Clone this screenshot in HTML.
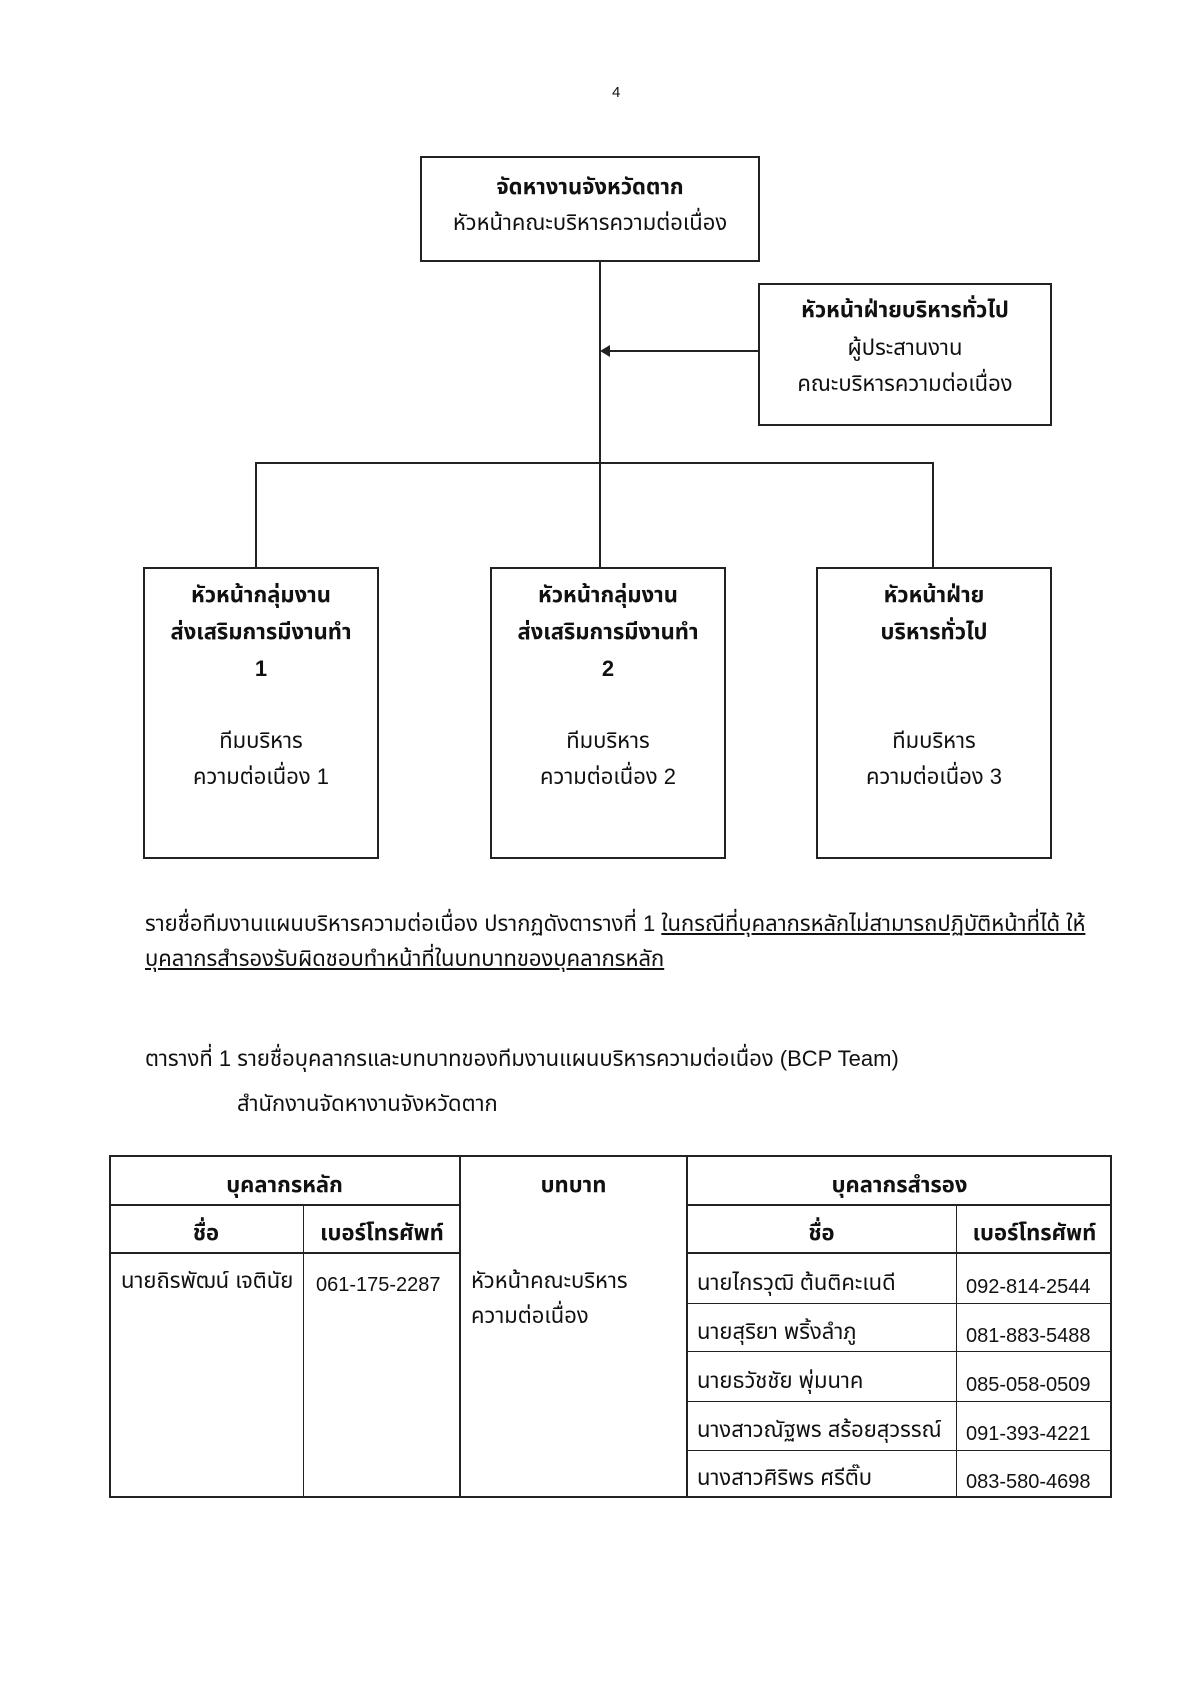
<!DOCTYPE html>
<html><head><meta charset="utf-8">
<style>
body{margin:0;width:1193px;height:1689px;background:#fff;position:relative;font-family:"Liberation Sans","Noto Sans Thai","Loma","Garuda",sans-serif;color:#111;overflow:hidden}
.a{position:absolute}
.box{position:absolute;border:2px solid #222;box-sizing:border-box}
.t{position:absolute;left:0;right:0;text-align:center;font-size:22px;line-height:26px}
.b{font-weight:bold}
.l{position:absolute;background:#222}
.tx{position:absolute;font-size:22px;white-space:nowrap;line-height:26px}
.ph{font-size:20px}
</style></head><body>
<div class="tx" style="left:612px;top:80px;font-size:15px">4</div>

<div class="box" style="left:420px;top:156px;width:340px;height:106px">
<div class="t b" style="top:16px">จัดหางานจังหวัดตาก</div>
<div class="t" style="top:52px">หัวหน้าคณะบริหารความต่อเนื่อง</div>
</div>
<div class="box" style="left:758px;top:283px;width:294px;height:143px">
<div class="t b" style="top:12px">หัวหน้าฝ่ายบริหารทั่วไป</div>
<div class="t" style="top:50px">ผู้ประสานงาน</div>
<div class="t" style="top:86px">คณะบริหารความต่อเนื่อง</div>
</div>
<div class="l" style="left:599px;top:262px;width:2px;height:202px"></div>
<div class="l" style="left:608px;top:350px;width:150px;height:2px"></div>
<div class="a" style="left:600px;top:345px;width:0;height:0;border-top:6px solid transparent;border-bottom:6px solid transparent;border-right:10px solid #222"></div>
<div class="l" style="left:255px;top:462px;width:679px;height:2px"></div>
<div class="l" style="left:255px;top:462px;width:2px;height:106px"></div>
<div class="l" style="left:599px;top:462px;width:2px;height:106px"></div>
<div class="l" style="left:932px;top:462px;width:2px;height:106px"></div>

<div class="box" style="left:143px;top:567px;width:236px;height:292px">
<div class="t b" style="top:13px">หัวหน้ากลุ่มงาน</div>
<div class="t b" style="top:50px">ส่งเสริมการมีงานทำ</div>
<div class="t b" style="top:87px">1</div>
<div class="t" style="top:159px">ทีมบริหาร</div>
<div class="t" style="top:195px">ความต่อเนื่อง 1</div>
</div>
<div class="box" style="left:490px;top:567px;width:236px;height:292px">
<div class="t b" style="top:13px">หัวหน้ากลุ่มงาน</div>
<div class="t b" style="top:50px">ส่งเสริมการมีงานทำ</div>
<div class="t b" style="top:87px">2</div>
<div class="t" style="top:159px">ทีมบริหาร</div>
<div class="t" style="top:195px">ความต่อเนื่อง 2</div>
</div>
<div class="box" style="left:816px;top:567px;width:236px;height:292px">
<div class="t b" style="top:13px">หัวหน้าฝ่าย</div>
<div class="t b" style="top:50px">บริหารทั่วไป</div>
<div class="t" style="top:159px">ทีมบริหาร</div>
<div class="t" style="top:195px">ความต่อเนื่อง 3</div>
</div>

<div class="tx" style="left:145px;top:911px">รายชื่อทีมงานแผนบริหารความต่อเนื่อง ปรากฏดังตารางที่ 1 <u>ในกรณีที่บุคลากรหลักไม่สามารถปฏิบัติหน้าที่ได้ ให้</u></div>
<div class="tx" style="left:145px;top:946px"><u>บุคลากรสำรองรับผิดชอบทำหน้าที่ในบทบาทของบุคลากรหลัก</u></div>
<div class="tx" style="left:145px;top:1046px">ตารางที่ 1 รายชื่อบุคลากรและบทบาทของทีมงานแผนบริหารความต่อเนื่อง (BCP Team)</div>
<div class="tx" style="left:237px;top:1091px">สำนักงานจัดหางานจังหวัดตาก</div>

<div class="box" style="left:109px;top:1155px;width:1003px;height:343px"></div>
<div class="l" style="left:303px;top:1205px;width:1px;height:293px"></div>
<div class="l" style="left:459px;top:1155px;width:2px;height:343px"></div>
<div class="l" style="left:686px;top:1155px;width:2px;height:343px"></div>
<div class="l" style="left:956px;top:1205px;width:1px;height:293px"></div>
<div class="l" style="left:109px;top:1204px;width:351px;height:2px"></div>
<div class="l" style="left:687px;top:1204px;width:425px;height:2px"></div>
<div class="l" style="left:109px;top:1252px;width:351px;height:2px"></div>
<div class="l" style="left:687px;top:1252px;width:425px;height:2px"></div>
<div class="l" style="left:687px;top:1303px;width:425px;height:1px"></div>
<div class="l" style="left:687px;top:1351px;width:425px;height:1px"></div>
<div class="l" style="left:687px;top:1401px;width:425px;height:1px"></div>
<div class="l" style="left:687px;top:1450px;width:425px;height:1px"></div>

<div class="tx b" style="left:109px;width:351px;text-align:center;top:1172px">บุคลากรหลัก</div>
<div class="tx b" style="left:460px;width:227px;text-align:center;top:1172px">บทบาท</div>
<div class="tx b" style="left:687px;width:425px;text-align:center;top:1172px">บุคลากรสำรอง</div>
<div class="tx b" style="left:109px;width:194px;text-align:center;top:1220px">ชื่อ</div>
<div class="tx b" style="left:304px;width:156px;text-align:center;top:1220px">เบอร์โทรศัพท์</div>
<div class="tx b" style="left:687px;width:269px;text-align:center;top:1220px">ชื่อ</div>
<div class="tx b" style="left:957px;width:155px;text-align:center;top:1220px">เบอร์โทรศัพท์</div>

<div class="tx" style="left:121px;top:1268px">นายถิรพัฒน์ เจตินัย</div>
<div class="tx ph" style="left:316px;top:1272px">061-175-2287</div>
<div class="tx" style="left:471px;top:1268px">หัวหน้าคณะบริหาร</div>
<div class="tx" style="left:471px;top:1303px">ความต่อเนื่อง</div>
<div class="tx" style="left:697px;top:1270px">นายไกรวุฒิ ต้นติคะเนดี</div>
<div class="tx ph" style="left:966px;top:1274px">092-814-2544</div>
<div class="tx" style="left:697px;top:1319px">นายสุริยา พริ้งลำภู</div>
<div class="tx ph" style="left:966px;top:1323px">081-883-5488</div>
<div class="tx" style="left:697px;top:1368px">นายธวัชชัย พุ่มนาค</div>
<div class="tx ph" style="left:966px;top:1372px">085-058-0509</div>
<div class="tx" style="left:697px;top:1417px">นางสาวณัฐพร สร้อยสุวรรณ์</div>
<div class="tx ph" style="left:966px;top:1421px">091-393-4221</div>
<div class="tx" style="left:697px;top:1465px">นางสาวศิริพร ศรีติ๊บ</div>
<div class="tx ph" style="left:966px;top:1469px">083-580-4698</div>
</body></html>
